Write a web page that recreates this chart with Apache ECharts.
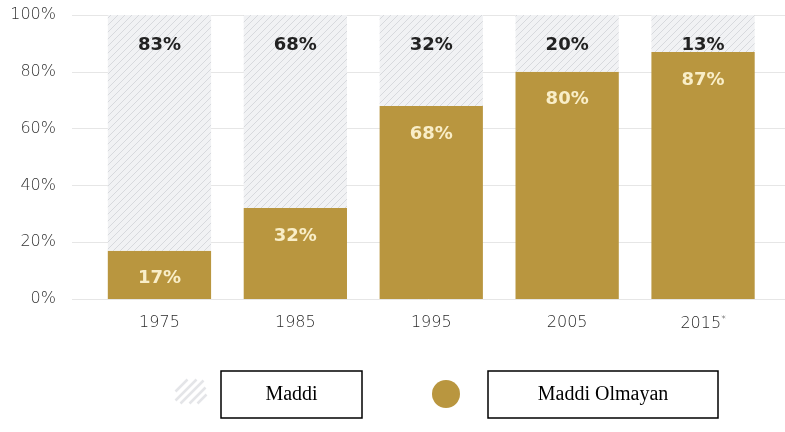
<!DOCTYPE html>
<html><head><meta charset="utf-8">
<script src="https://cdn.jsdelivr.net/npm/echarts@6/dist/echarts.min.js"></script>
<style>html,body{margin:0;padding:0;background:#fff}#c{width:785px;height:432px}</style>
</head><body><div id="c"></div>
<script>
var categories = ['1975', '1985', '1995', '2005', '2015*'];
var maddiOlmayan = [17, 32, 68, 80, 87];
var maddi = [83, 68, 32, 20, 13];
var yTicks = [0, 20, 40, 60, 80, 100];
var legendNames = ['Maddi', 'Maddi Olmayan'];

function hatch() {
  var c = document.createElement('canvas');
  c.width = 7; c.height = 7;
  var x = c.getContext('2d');
  x.fillStyle = '#f1f2f4'; x.fillRect(0, 0, 7, 7);
  x.strokeStyle = '#d7d9dd'; x.lineWidth = 1;
  for (var k = -1; k <= 1; k++) {
    x.beginPath(); x.moveTo(-1 + k * 7, 8); x.lineTo(8 + k * 7, -1); x.stroke();
  }
  return c;
}
var pat = { image: hatch(), repeat: 'repeat' };
var gold = '#b9963f';
var font = '"DejaVu Sans", sans-serif';

var chart = echarts.init(document.getElementById('c'), null, { renderer: 'canvas' });
chart.setOption({
  animation: false,
  grid: [
    { left: 72, right: 0, top: 15, height: 284, containLabel: false },
    { left: 91.5, right: 14, top: 15, height: 284, containLabel: false }
  ],
  xAxis: [
    { gridIndex: 0, type: 'category', data: categories, show: false },
    { gridIndex: 1, type: 'category', data: categories,
      axisLine: { show: false }, axisTick: { show: false },
      axisLabel: { margin: 16, fontSize: 16, fontWeight: 200, color: '#2a2a2a', fontFamily: font,
        formatter: function (v) { return v.indexOf('*') >= 0 ? v.replace('*', '') + '{s|*}' : v; },
        rich: { s: { fontSize: 9, fontWeight: 200, color: '#2a2a2a', fontFamily: font, verticalAlign: 'top', padding: [0, 0, 8, 0] } } } }
  ],
  yAxis: [
    { gridIndex: 0, type: 'value', min: yTicks[0], max: yTicks[yTicks.length - 1], interval: 20,
      axisLine: { show: false }, axisTick: { show: false },
      splitLine: { lineStyle: { color: '#e6e6e6', width: 1 } },
      axisLabel: { margin: 16, fontSize: 16, fontWeight: 200, color: '#333', fontFamily: font, formatter: '{value}%' } },
    { gridIndex: 1, type: 'value', min: 0, max: 100, interval: 20, show: false, splitLine: { show: false } }
  ],
  series: [
    { name: legendNames[1], type: 'bar', stack: 't', xAxisIndex: 1, yAxisIndex: 1,
      data: maddiOlmayan, barCategoryGap: '24%', itemStyle: { color: gold },
      label: { show: true, position: 'insideTop', distance: 19, formatter: '{c}%',
        color: '#f9eec8', fontSize: 18, fontWeight: 'bold', fontFamily: font } },
    { name: legendNames[0], type: 'bar', stack: 't', xAxisIndex: 1, yAxisIndex: 1,
      data: maddi, barCategoryGap: '24%', itemStyle: { color: pat },
      label: { show: true, position: 'insideTop', distance: 21, formatter: '{c}%',
        color: '#222', fontSize: 18, fontWeight: 'bold', fontFamily: font } }
  ],
  graphic: [
    { type: 'group', left: 173, top: 377, children: (function () {
      var arr = [];
      var segs = [[0, 20, 12, 8], [0, 29, 21, 8], [5, 32, 28, 9], [14, 32, 30, 16], [22, 32, 31, 23]];
      segs.forEach(function (s) {
        arr.push({ type: 'line', shape: { x1: s[0], y1: s[1], x2: s[2], y2: s[3] },
          style: { stroke: '#e4e5e8', lineWidth: 2.5 } });
      });
      return arr;
    })() },
    { type: 'rect', shape: { x: 221, y: 371, width: 141, height: 47 },
      style: { fill: '#fff', stroke: '#000', lineWidth: 1.5 } },
    { type: 'text', x: 291.5, y: 394.5, style: { text: legendNames[0], fill: '#000',
      font: '20px "Liberation Serif", "Times New Roman", serif', align: 'center', verticalAlign: 'middle' } },
    { type: 'circle', shape: { cx: 446, cy: 394, r: 14 }, style: { fill: gold } },
    { type: 'rect', shape: { x: 488, y: 371, width: 230, height: 47 },
      style: { fill: '#fff', stroke: '#000', lineWidth: 1.5 } },
    { type: 'text', x: 603, y: 394.5, style: { text: legendNames[1], fill: '#000',
      font: '20px "Liberation Serif", "Times New Roman", serif', align: 'center', verticalAlign: 'middle' } }
  ]
});
</script></body></html>
